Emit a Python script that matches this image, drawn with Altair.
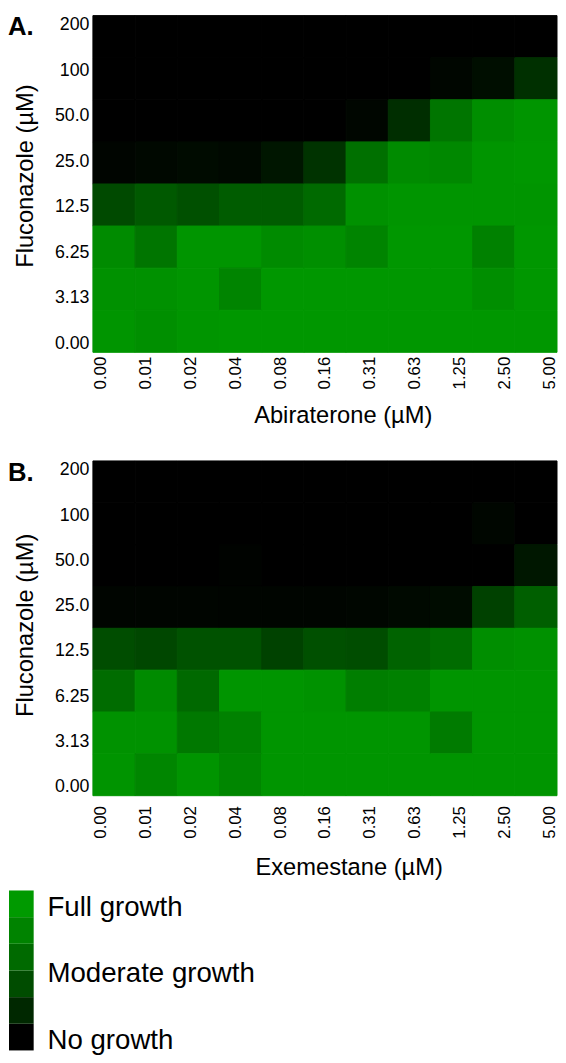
import altair as alt
import pandas as pd

fluconazole = ["200", "100", "50.0", "25.0", "12.5", "6.25", "3.13", "0.00"]
abiraterone = ["0.00", "0.01", "0.02", "0.04", "0.08", "0.16", "0.31", "0.63", "1.25", "2.50", "5.00"]
exemestane = ["0.00", "0.01", "0.02", "0.04", "0.08", "0.16", "0.31", "0.63", "1.25", "2.50", "5.00"]

# relative growth (0 = no growth, 1 = full growth); rows follow `fluconazole`
growth_a = [
    [0.00, 0.00, 0.00, 0.00, 0.00, 0.00, 0.00, 0.00, 0.00, 0.00, 0.00],
    [0.00, 0.00, 0.00, 0.00, 0.00, 0.00, 0.00, 0.00, 0.04, 0.09, 0.31],
    [0.00, 0.00, 0.00, 0.00, 0.00, 0.00, 0.04, 0.30, 0.76, 0.92, 0.97],
    [0.03, 0.05, 0.07, 0.06, 0.14, 0.33, 0.73, 0.90, 0.88, 0.97, 0.98],
    [0.48, 0.58, 0.52, 0.60, 0.60, 0.69, 0.94, 0.97, 0.97, 0.97, 0.97],
    [0.90, 0.76, 0.97, 0.97, 0.90, 0.93, 0.86, 0.98, 0.98, 0.84, 0.98],
    [0.94, 0.94, 0.97, 0.86, 0.98, 0.98, 0.98, 0.98, 0.98, 0.92, 0.98],
    [0.97, 0.93, 0.97, 0.98, 0.98, 0.98, 0.98, 0.98, 0.98, 0.98, 0.98],
]
growth_b = [
    [0.00, 0.00, 0.00, 0.00, 0.00, 0.00, 0.00, 0.00, 0.00, 0.00, 0.00],
    [0.00, 0.00, 0.00, 0.00, 0.00, 0.00, 0.00, 0.00, 0.00, 0.04, 0.00],
    [0.00, 0.00, 0.00, 0.02, 0.00, 0.00, 0.00, 0.00, 0.00, 0.00, 0.15],
    [0.03, 0.03, 0.03, 0.03, 0.03, 0.03, 0.04, 0.06, 0.08, 0.42, 0.62],
    [0.50, 0.46, 0.53, 0.53, 0.43, 0.52, 0.50, 0.64, 0.70, 0.92, 0.94],
    [0.70, 0.90, 0.68, 0.97, 0.97, 0.95, 0.82, 0.84, 0.97, 0.97, 0.97],
    [0.95, 0.95, 0.78, 0.84, 0.97, 0.97, 0.97, 0.97, 0.80, 0.97, 0.97],
    [0.96, 0.87, 0.96, 0.87, 0.97, 0.97, 0.97, 0.97, 0.97, 0.97, 0.97],
]

legend_colors = ["#000000", "#002800", "#004c00", "#006a00", "#008300", "#009a00"]
legend_labels = ["Full growth", "Moderate growth", "No growth"]
legend_label_growth = [0.89, 0.48, 0.06]

FONT = "Liberation Sans"
GREEN_SCALE = alt.Scale(domain=[0, 1], range=["#000000", "#009a00"], interpolate="rgb")


def to_frame(grid, cols):
    rows = []
    for r, fl in enumerate(fluconazole):
        for c, conc in enumerate(cols):
            rows.append({"fluc": fl, "conc": conc, "growth": grid[r][c]})
    return pd.DataFrame(rows)


def heat(grid, cols, xtitle, letter, h, label_pad, title_pad, title_x, title_y):
    df = to_frame(grid, cols)
    band = alt.Scale(paddingInner=0, paddingOuter=0)
    cells = alt.Chart(df).mark_rect(strokeWidth=1).encode(
        x=alt.X("conc:O", sort=cols, scale=band, axis=None),
        y=alt.Y("fluc:O", sort=fluconazole, scale=band, axis=None),
        color=alt.Color("growth:Q", scale=GREEN_SCALE, legend=None),
        stroke=alt.Stroke("growth:Q", scale=GREEN_SCALE, legend=None),
    )
    # axis layer: labels spread evenly as in the original figure
    axes = alt.Chart(df).mark_point(opacity=0, size=1).encode(
        x=alt.X("conc:O", sort=cols, title=xtitle,
                scale=alt.Scale(type="point", padding=0.17),
                axis=alt.Axis(orient="bottom", labelAngle=270, labelPadding=label_pad,
                              titlePadding=title_pad, labelFontSize=17, titleX=title_x)),
        y=alt.Y("fluc:O", sort=fluconazole, title="Fluconazole (µM)",
                scale=alt.Scale(type="point", padding=0.2),
                axis=alt.Axis(orient="left", labelPadding=4, titlePadding=17,
                              labelFontSize=18, titleY=title_y)),
    )
    tag = alt.Chart(pd.DataFrame({"t": [letter]})).mark_text(
        align="left", baseline="top", fontSize=26, fontWeight="bold", font=FONT, color="black"
    ).encode(text="t:N", x=alt.value(-86), y=alt.value(-1))
    return alt.layer(cells, axes, tag).resolve_scale(x="independent", y="independent").properties(
        width=470, height=h)


chart_a = heat(growth_a, abiraterone, "Abiraterone (µM)", "A.", 341, 4, 15, 253, 162)
chart_b = heat(growth_b, exemestane, "Exemestane (µM)", "B.", 339, 10, 18, 259, 166)

n = len(legend_colors)
leg_df = pd.DataFrame({
    "lo": [i / n for i in range(n)],
    "hi": [(i + 1) / n for i in range(n)],
    "c": legend_colors,
})
lab_df = pd.DataFrame({"label": legend_labels, "growth": legend_label_growth})
gy = alt.Scale(domain=[0, 1])
blocks = alt.Chart(leg_df).mark_rect().encode(
    x=alt.value(-85), x2=alt.value(-60),
    y=alt.Y("lo:Q", scale=gy, axis=None), y2="hi:Q",
    color=alt.Color("c:N", scale=None, legend=None),
)
labels = alt.Chart(lab_df).mark_text(
    align="left", baseline="middle", fontSize=28, font=FONT, color="black"
).encode(x=alt.value(-46), y=alt.Y("growth:Q", scale=gy, axis=None), text="label:N")
legend = (blocks + labels).properties(width=1, height=162)

top = alt.vconcat(chart_a, chart_b, spacing=32)
chart = alt.vconcat(top, legend, spacing=10).resolve_scale(
    color="independent", stroke="independent"
).properties(
    padding={"left": 0, "top": 0, "right": 0, "bottom": 0}
).configure_view(stroke=None).configure_axis(
    domain=False, ticks=False, grid=False,
    labelFont=FONT, titleFont=FONT, labelColor="black", titleColor="black",
    titleFontSize=24, titleFontWeight="normal",
).configure_text(font=FONT)

chart.save("out.html", embed_options={"renderer": "svg", "actions": False})
